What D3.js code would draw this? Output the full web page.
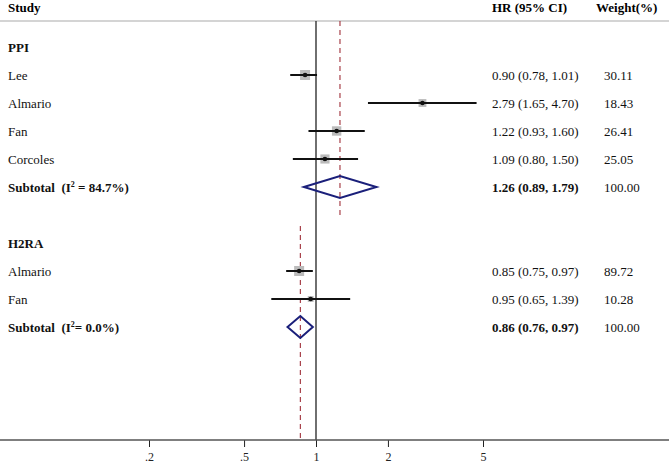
<!DOCTYPE html>
<html>
<head>
<meta charset="utf-8">
<script src="https://cdn.jsdelivr.net/npm/d3@7"></script>
<style>
  body { margin: 0; background: #fff; }
  svg { display: block; font-family: "Liberation Serif", "DejaVu Serif", serif; }
  svg text { white-space: pre; }
</style>
</head>
<body>
<div id="container"></div>
<script>
const width = 669;
const height = 466;

// rows, top to bottom
const labels   = ["PPI", "Lee", "Almario", "Fan", "Corcoles", "Subtotal", "", "H2RA", "Almario", "Fan", "Subtotal"];
const kinds    = ["group", "study", "study", "study", "study", "sub", "blank", "group", "study", "study", "sub"];
const hr       = [null, 0.90, 2.79, 1.22, 1.09, 1.26, null, null, 0.85, 0.95, 0.86];
const lower    = [null, 0.78, 1.65, 0.93, 0.80, 0.89, null, null, 0.75, 0.65, 0.76];
const upper    = [null, 1.01, 4.70, 1.60, 1.50, 1.79, null, null, 0.97, 1.39, 0.97];
const weights  = [null, 30.11, 18.43, 26.41, 25.05, 100.00, null, null, 89.72, 10.28, 100.00];
const i2       = [null, null, null, null, null, " = 84.7%", null, null, null, null, "= 0.0%"];
const ticks    = [0.2, 0.5, 1, 2, 5];
const tickText = [".2", ".5", "1", "2", "5"];

const fmt = d3.format(".2f");
const serif = "Liberation Serif, DejaVu Serif, serif";

const svg = d3.select("#container")
  .append("svg")
  .attr("width", width)
  .attr("height", height);

const x = d3.scaleLog().domain([0.2, 5]).range([149, 483]);
const y = d3.scalePoint().domain(d3.range(labels.length)).range([47, 327]);
const box = d3.scaleSqrt().domain([0, 30]).range([0, 10]).clamp(true);

// header
svg.append("text").attr("x", 8).attr("y", 12).attr("font-weight", "bold").attr("font-size", 13).text("Study");
svg.append("text").attr("x", 492).attr("y", 12).attr("font-weight", "bold").attr("font-size", 13).text("HR (95% CI)");
svg.append("text").attr("x", 596).attr("y", 12).attr("font-weight", "bold").attr("font-size", 13).text("Weight(%)");
svg.append("line").attr("x1", 0).attr("x2", width).attr("y1", 21).attr("y2", 21)
  .attr("stroke", "#aaa").attr("stroke-width", 1.2);

// null line
svg.append("line").attr("x1", x(1)).attr("x2", x(1)).attr("y1", 21).attr("y2", 440)
  .attr("stroke", "#222").attr("stroke-width", 1.3);

// pooled estimate dashed lines, one per group
const subIdx = kinds.map((k, i) => k === "sub" ? i : -1).filter(i => i >= 0);
const dashSpans = [[21, 216], [226, 440]];
subIdx.forEach((i, j) => {
  svg.append("line")
    .attr("x1", x(hr[i])).attr("x2", x(hr[i]))
    .attr("y1", dashSpans[j][0]).attr("y2", dashSpans[j][1])
    .attr("stroke", "#a0303a").attr("stroke-width", 1.1)
    .attr("stroke-dasharray", "5,4");
});

// axis
const axis = d3.axisBottom(x).tickValues(ticks).tickFormat((d, i) => tickText[i]).tickSize(7).tickPadding(5);
const ag = svg.append("g").attr("transform", "translate(0,440)").call(axis)
  .attr("font-family", serif).attr("font-size", 12);
ag.select(".domain").remove();
ag.selectAll("line").attr("stroke", "#222");
ag.selectAll("text").attr("fill", "#222");
svg.append("line").attr("x1", 0).attr("x2", width).attr("y1", 440).attr("y2", 440)
  .attr("stroke", "#555").attr("stroke-width", 1.6);

// rows
labels.forEach((lab, i) => {
  const k = kinds[i];
  const yy = y(i);
  if (k === "blank") return;
  const bold = k !== "study";
  const t = svg.append("text").attr("x", 8).attr("y", yy + 4.5).attr("font-size", 13)
    .attr("font-weight", bold ? "bold" : "normal").attr("fill", "#111");
  if (k === "sub") {
    t.append("tspan").text(lab + "  (I");
    t.append("tspan").attr("font-size", 8).attr("dy", -5).text("2");
    t.append("tspan").attr("dy", 5).text(i2[i] + ")");
  } else {
    t.text(lab);
  }
  if (hr[i] == null) return;

  svg.append("text").attr("x", 492).attr("y", yy + 4.5).attr("font-size", 13)
    .attr("font-weight", k === "sub" ? "bold" : "normal").attr("fill", "#111")
    .text(`${fmt(hr[i])} (${fmt(lower[i])}, ${fmt(upper[i])})`);
  svg.append("text").attr("x", 604).attr("y", yy + 4.5).attr("font-size", 13).attr("fill", "#111")
    .text(fmt(weights[i]));

  if (k === "study") {
    const s = box(weights[i]);
    svg.append("rect").attr("x", x(hr[i]) - s / 2).attr("y", yy - s / 2)
      .attr("width", s).attr("height", s).attr("fill", "#bbb");
    svg.append("line").attr("x1", x(lower[i])).attr("x2", x(upper[i])).attr("y1", yy).attr("y2", yy)
      .attr("stroke", "#111").attr("stroke-width", 2);
    svg.append("circle").attr("cx", x(hr[i])).attr("cy", yy).attr("r", 2.3).attr("fill", "#111");
  } else {
    const h = 11;
    const pts = [[x(lower[i]), yy], [x(hr[i]), yy - h], [x(upper[i]), yy], [x(hr[i]), yy + h]];
    svg.append("path").attr("d", d3.line()(pts) + "Z")
      .attr("fill", "none").attr("stroke", "#1a1f7a").attr("stroke-width", 2);
  }
});
</script>
</body>
</html>
